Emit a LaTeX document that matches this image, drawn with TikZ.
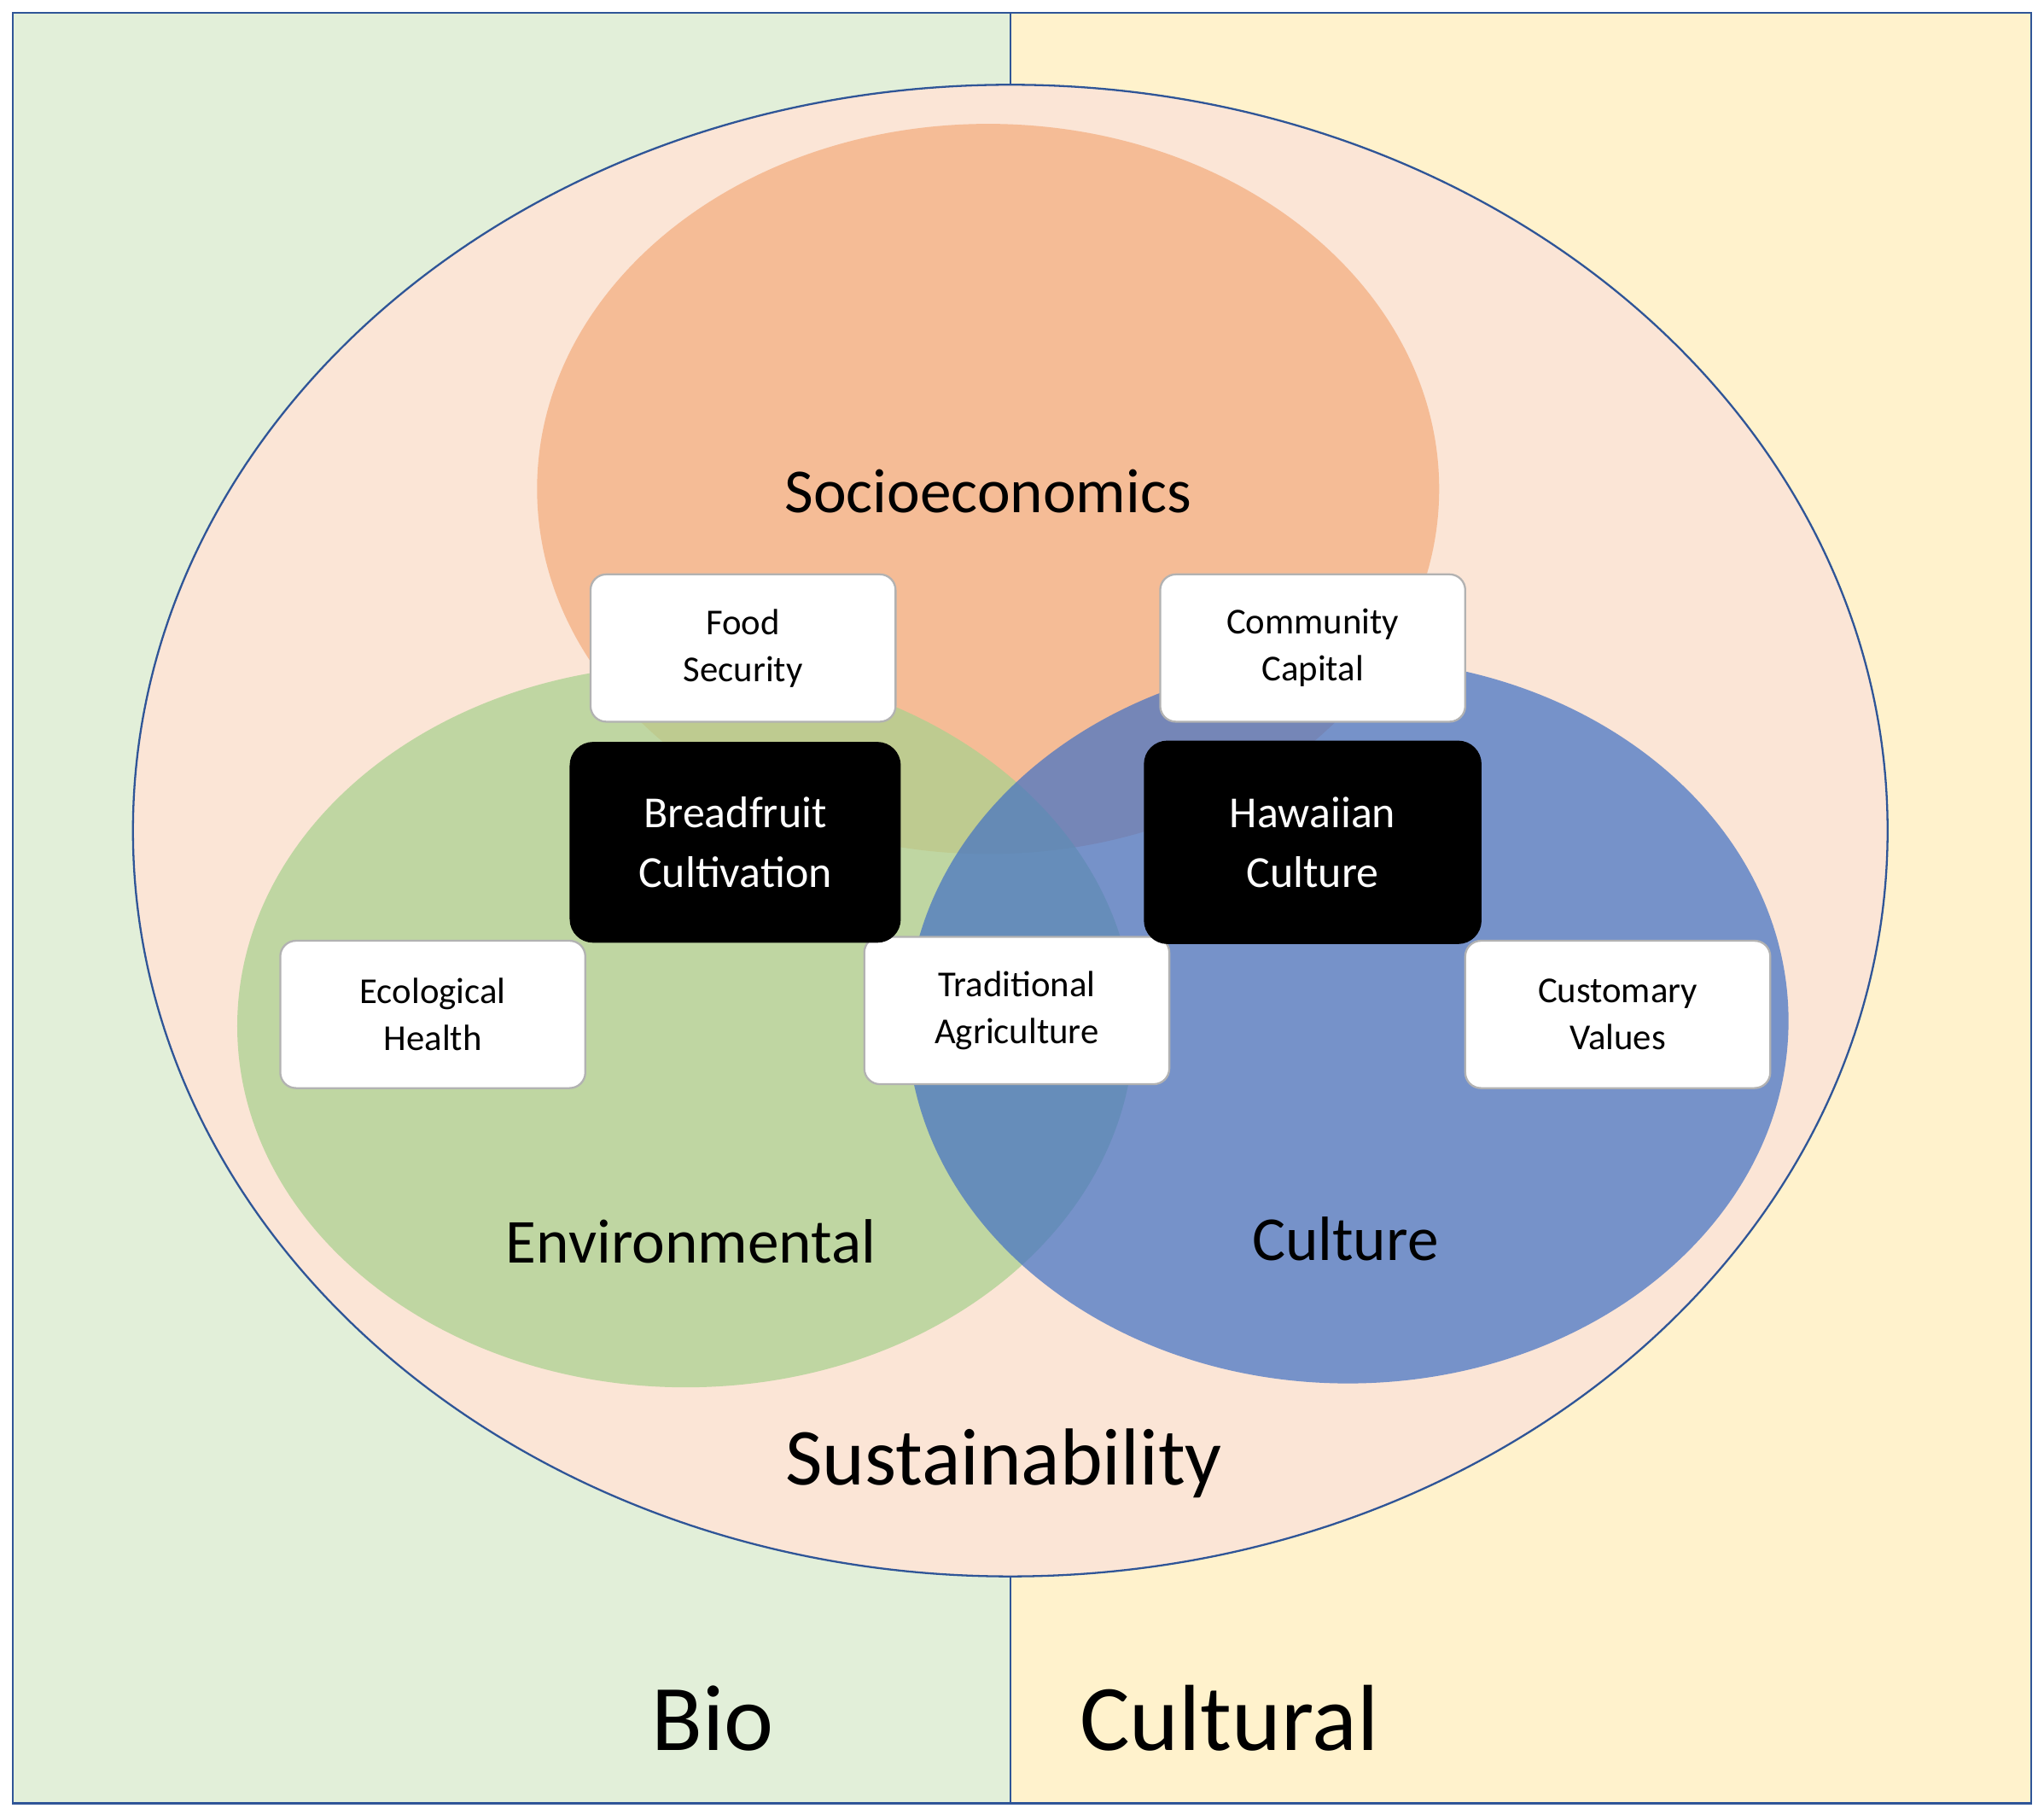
\documentclass[tikz,border=0pt]{standalone}
\usepackage{fontspec}
\setmainfont{Carlito}
\begin{document}
\begin{tikzpicture}[x=1pt,y=-1pt,
  wbox/.style={draw=gray!60,line width=1.5pt,fill=white,rounded corners=12pt,minimum width=234pt,minimum height=113pt,align=center,font=\fontsize{28}{36}\selectfont,inner sep=0pt},
  bbox/.style={fill=black,rounded corners=18pt,minimum width=254pt,minimum height=154pt,align=center,text=white,font=\fontsize{34}{46}\selectfont,inner sep=0pt},
  lab/.style={font=\fontsize{#1}{#1}\selectfont}]
\useasboundingbox (0,0) rectangle (1568,1391);
\fill[white] (0,0) rectangle (1568,1391);
\definecolor{frame}{HTML}{2F5597}
\fill[fill={rgb,255:red,226;green,239;blue,217}] (10,10) rectangle (775,1383);
\fill[fill={rgb,255:red,255;green,242;blue,204}] (775,10) rectangle (1558,1383);
\draw[frame,line width=1.5pt] (10,10) rectangle (1558,1383);
\draw[frame,line width=1.5pt] (775,10) -- (775,1383);
\draw[frame,line width=1.5pt,fill={rgb,255:red,251;green,229;blue,214}] (775,637) ellipse [x radius=673, y radius=572];
\fill[fill={rgb,255:red,245;green,188;blue,150}] (758,375) ellipse [x radius=346, y radius=280];
\fill[fill={rgb,255:red,169;green,209;blue,142},opacity=0.72] (526,787) ellipse [x radius=344, y radius=277];
\fill[fill={rgb,255:red,68;green,114;blue,196},opacity=0.72] (1034,783) ellipse [x radius=338, y radius=278];
\node[lab=48] (soc) at (758,377) {Socioeconomics};
\node[lab=48] (env) at (530,952) {Environmental};
\node[lab=48] (cul) at (1032,950) {Culture};
\node[lab=62] (sus) at (770,1122) {Sustainability};
\node[lab=72] (bio) at (547,1318) {Bio};
\node[lab=72] (cult) at (943,1318) {Cultural};
\node[wbox] (food) at (570,497) {Food\\Security};
\node[wbox] (comm) at (1007,497) {Community\\Capital};
\node[wbox] (eco) at (332,778) {Ecological\\Health};
\node[wbox] (trad) at (780,775) {Traditional\\Agriculture};
\node[wbox] (cust) at (1241,778) {Customary\\Values};
\node[bbox] (bread) at (564,646) {Breadfruit\\Cultivation};
\node[bbox,minimum width=259pt,minimum height=156pt] (haw) at (1007,646) {Hawaiian\\Culture};
\end{tikzpicture}
\end{document}
